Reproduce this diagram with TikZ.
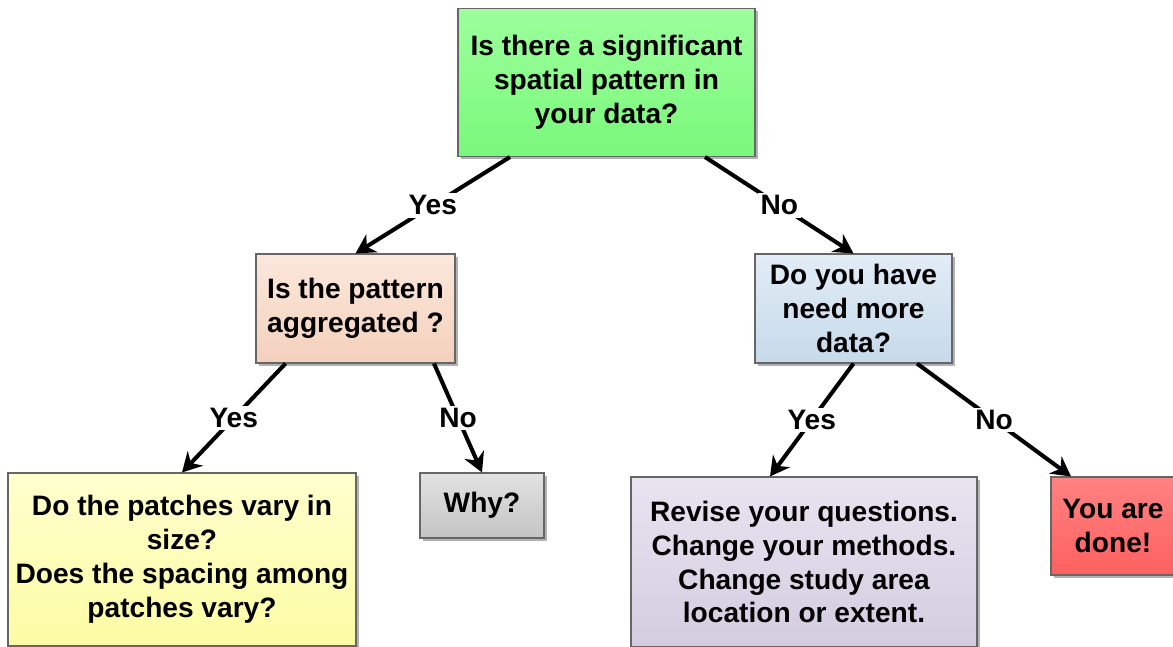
\documentclass[tikz,border=0pt]{standalone}
\usepackage{fontspec}
\setmainfont{Liberation Sans}
\usetikzlibrary{arrows.meta,shadows}
\definecolor{greentop}{RGB}{156,255,156}
\definecolor{greenbot}{RGB}{122,248,122}
\definecolor{peachtop}{RGB}{251,232,220}
\definecolor{peachbot}{RGB}{244,208,188}
\definecolor{bluetop}{RGB}{226,236,246}
\definecolor{bluebot}{RGB}{198,218,234}
\definecolor{yellowtop}{RGB}{255,255,206}
\definecolor{yellowbot}{RGB}{252,252,164}
\definecolor{greytop}{RGB}{226,226,226}
\definecolor{greybot}{RGB}{196,196,196}
\definecolor{lilactop}{RGB}{232,228,240}
\definecolor{lilacbot}{RGB}{212,204,224}
\definecolor{redtop}{RGB}{255,130,130}
\definecolor{redbot}{RGB}{255,96,96}
\begin{document}
\begin{tikzpicture}[
					box/.style={draw=black!60, line width=0.6pt, align=center, inner sep=2pt,
						font=\fontsize{16}{19.3}\selectfont\bfseries,
						drop shadow={shadow xshift=1.5pt, shadow yshift=-1.5pt, opacity=0.3, fill=black}},
					link/.style={line width=2.3pt, -{Stealth[length=11pt, width=12pt]}},
					answer/.style={midway, fill=white, inner sep=1.5pt, font=\fontsize{16}{19.3}\selectfont\bfseries}]
					\useasboundingbox[fill=white] (0, 0) rectangle (23.46, -12.94);
					\node[box, top color=greentop, bottom color=greenbot, minimum width=5.94cm, minimum height=2.96cm] (pattern) at (12.13, -1.65) {Is there a significant\\spatial pattern in\\your data?};
					\node[box, top color=peachtop, bottom color=peachbot, minimum width=3.98cm, minimum height=2.18cm] (aggregated) at (7.11, -6.17) {Is the pattern\\aggregated ?};
					\node[box, top color=bluetop, bottom color=bluebot, minimum width=3.94cm, minimum height=2.18cm] (moredata) at (17.07, -6.17) {Do you have\\need more\\data?};
					\node[box, top color=yellowtop, bottom color=yellowbot, minimum width=6.96cm, minimum height=3.46cm] (patches) at (3.64, -11.19) {Do the patches vary in\\size?\\Does the spacing among\\patches vary?};
					\node[box, top color=greytop, bottom color=greybot, minimum width=2.48cm, minimum height=1.3cm] (why) at (9.64, -10.11) {Why?};
					\node[box, top color=lilactop, bottom color=lilacbot, minimum width=6.92cm, minimum height=3.4cm] (revise) at (16.08, -11.24) {Revise your questions.\\Change your methods.\\Change study area\\location or extent.};
					\node[box, top color=redtop, bottom color=redbot, minimum width=2.48cm, minimum height=1.96cm] (done) at (22.26, -10.52) {You are\\done!};
					\draw[link] ([xshift=-1.93cm]pattern.south) -- (aggregated.north) node[answer] {Yes};
					\draw[link] ([xshift=1.97cm]pattern.south) -- (moredata.north) node[answer] {No};
					\draw[link] ([xshift=-1.4cm]aggregated.south) -- (patches.north) node[answer] {Yes};
					\draw[link] ([xshift=1.57cm]aggregated.south) -- (why.north) node[answer] {No};
					\draw[link] (moredata.south) -- ([xshift=-0.68cm]revise.north) node[answer] {Yes};
					\draw[link] ([xshift=1.27cm]moredata.south) -- ([xshift=-0.84cm]done.north) node[answer] {No};
				\end{tikzpicture}
\end{document}
